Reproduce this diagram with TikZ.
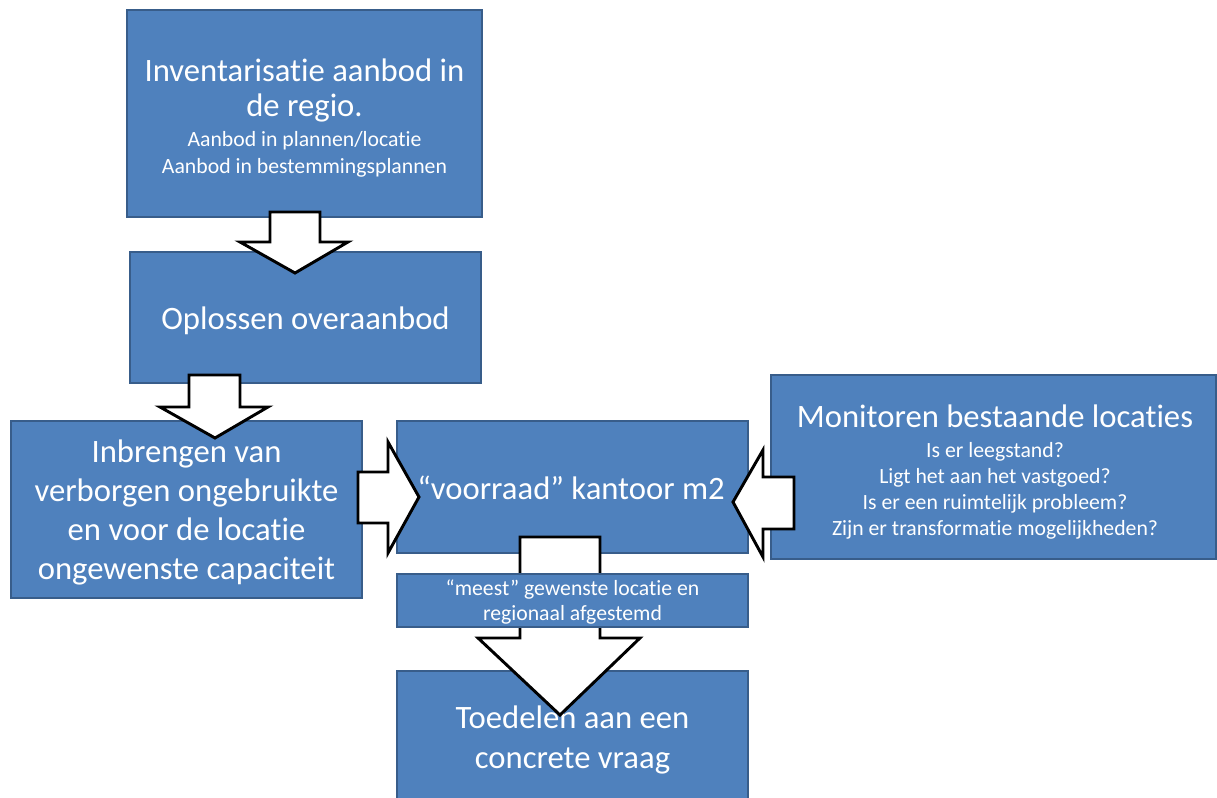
\documentclass[tikz,border=0pt]{standalone}
\usepackage{fontspec}
\setmainfont{Carlito}[Ligatures={NoCommon}]
\definecolor{boxblue}{HTML}{4F81BD}
\definecolor{boxedge}{HTML}{385D8A}
\tikzset{
  box/.style={rectangle, fill=boxblue, draw=boxedge, line width=1.1pt, inner sep=0pt},
  big/.style={text=white, anchor=base, inner sep=0pt, font=\fontsize{24.5}{29}\selectfont},
  small/.style={text=white, anchor=base, inner sep=0pt, font=\fontsize{16.3}{19.5}\selectfont},
  blockarrow/.style={fill=white, draw=black, line width=2.2pt, line join=miter}
}
\begin{document}
\begin{tikzpicture}[x=0.75pt,y=-0.75pt]
\useasboundingbox (0,0) rectangle (1217,798);
% boxes
\node[box, minimum width=266.25pt, minimum height=155.25pt] (inv) at (304.5,113.5) {};
\node[big] (inv1) at (304.5,82) {Inventarisatie aanbod in};
\node[big] (inv2) at (304.5,117) {de regio.};
\node[small] (inv3) at (304.5,147) {Aanbod in plannen/locatie};
\node[small] (inv4) at (304.5,174) {Aanbod in bestemmingsplannen};

\node[box, minimum width=263.25pt, minimum height=98.25pt] (opl) at (305.5,317.5) {};
\node[big] (opl1) at (305.5,330) {Oplossen overaanbod};

\node[box, minimum width=263.25pt, minimum height=132.75pt] (inb) at (186.5,509.5) {};
\node[big] (inb1) at (186.5,462) {Inbrengen van};
\node[big] (inb2) at (186.5,501) {verborgen ongebruikte};
\node[big] (inb3) at (186.5,540) {en voor de locatie};
\node[big] (inb4) at (186.5,579) {ongewenste capaciteit};

\node[box, minimum width=263.25pt, minimum height=99pt] (voo) at (572.5,487) {};
\node[big] (voo1) at (571,499) {“voorraad” kantoor m2};

\node[box, minimum width=333.75pt, minimum height=138pt] (mon) at (993.5,467) {};
\node[big] (mon1) at (995,427) {Monitoren bestaande locaties};
\node[small] (mon2) at (995,457) {Is er leegstand?};
\node[small] (mon3) at (995,483) {Ligt het aan het vastgoed?};
\node[small] (mon4) at (995,509) {Is er een ruimtelijk probleem?};
\node[small] (mon5) at (995,535) {Zijn er transformatie mogelijkheden?};

\node[box, minimum width=263.25pt, minimum height=104.25pt] (toe) at (572.5,740.5) {};
\node[big] (toe1) at (572.5,728) {Toedelen aan een};
\node[big] (toe2) at (572.5,768) {concrete vraag};

% block arrows
\draw[blockarrow] (270,212) -- (320,212) -- (320,242) -- (348,242) -- (295,273) -- (240,242) -- (270,242) -- cycle;
\draw[blockarrow] (189,375) -- (240,375) -- (240,407) -- (268,407) -- (215,438) -- (160,407) -- (189,407) -- cycle;
\draw[blockarrow] (358,472) -- (388,472) -- (388,442) -- (419,497) -- (388,553) -- (388,523) -- (358,523) -- cycle;
\draw[blockarrow] (794,477) -- (763,477) -- (763,450) -- (733,502) -- (763,557) -- (763,529) -- (794,529) -- cycle;
\draw[blockarrow] (520,537) -- (600,537) -- (600,638) -- (640,638) -- (560,715) -- (478,638) -- (520,638) -- cycle;

% middle label box on top
\node[box, minimum width=263.25pt, minimum height=39.75pt] (mee) at (572.5,600.5) {};
\node[small] (mee1) at (572.5,595) {“meest” gewenste locatie en};
\node[small] (mee2) at (572.5,620) {regionaal afgestemd};
\end{tikzpicture}
\end{document}
